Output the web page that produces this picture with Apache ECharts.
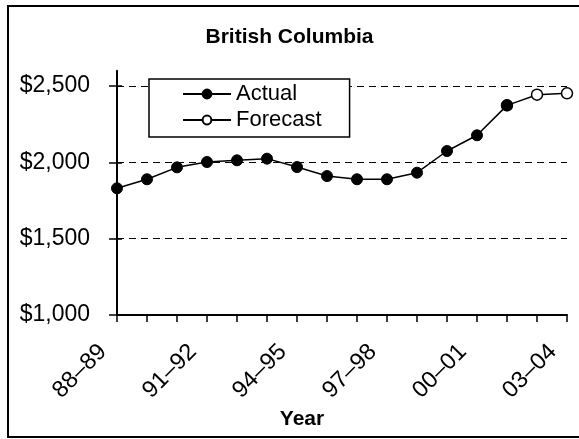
<!DOCTYPE html>
<html>
<head>
<meta charset="utf-8">
<script src="https://cdn.jsdelivr.net/npm/echarts@6/dist/echarts.min.js"></script>
<style>html,body{margin:0;padding:0;background:#fff}#chart{width:579px;height:439px}</style>
</head>
<body>
<div id="chart"></div>
<script>
const years = ['88–89','89–90','90–91','91–92','92–93','93–94','94–95','95–96','96–97','97–98','98–99','99–00','00–01','01–02','02–03','03–04'];
const actual = [1830, 1889, 1967, 2002, 2013, 2024, 1969, 1910, 1889, 1889, 1932, 2074, 2177, 2373, null, null];
const forecast = [null, null, null, null, null, null, null, null, null, null, null, null, null, 2373, 2443, 2452];
const yTicks = [1000, 1500, 2000, 2500];

const FONT = '"Liberation Sans", Arial, sans-serif';
const chart = echarts.init(document.getElementById('chart'));
chart.setOption({
  animation: false,
  backgroundColor: '#fff',
  textStyle: { fontFamily: FONT, color: '#000' },
  title: {
    text: 'British Columbia',
    left: 'center',
    top: 22,
    textStyle: { fontFamily: FONT, fontSize: 21, fontWeight: 'bold', color: '#000' }
  },
  graphic: [
    { type: 'rect', shape: { x: 8, y: 6, width: 590, height: 431 }, style: { fill: 'none', stroke: '#000', lineWidth: 2 }, z: -1 },
    { type: 'text', x: 302, y: 419, style: { text: 'Year', fontFamily: FONT, fontSize: 21, fontWeight: 'bold', fill: '#000', align: 'center', verticalAlign: 'middle' } }
  ],
  legend: {
    data: ['Actual', 'Forecast'],
    orient: 'vertical',
    left: 149,
    top: 79,
    padding: [3, 28, 5, 33],
    itemGap: 2,
    itemWidth: 48,
    itemHeight: 11,
    borderColor: '#000',
    borderWidth: 1.5,
    backgroundColor: '#fff',
    textStyle: { fontFamily: FONT, fontSize: 22, color: '#000', lineHeight: 24 }
  },
  grid: { left: 117, right: 12, top: 70.7, bottom: 124, containLabel: false },
  xAxis: {
    type: 'category',
    data: years,
    boundaryGap: false,
    axisLine: { lineStyle: { color: '#000', width: 2 } },
    axisTick: { show: true, interval: 0, length: 7, lineStyle: { color: '#000', width: 1.5 } },
    axisLabel: { interval: 2, rotate: 45, margin: 19, padding: [0, 20, 0, 0], fontFamily: FONT, fontSize: 23.5, color: '#000' },
    splitLine: { show: false }
  },
  yAxis: [
    {
      type: 'value',
      min: 1000,
      max: 2600,
      interval: 500,
      axisLine: { show: true, lineStyle: { color: '#000', width: 2 } },
      axisTick: { show: true, length: 8, customValues: yTicks, lineStyle: { color: '#000', width: 1.5 } },
      axisLabel: {
        customValues: yTicks,
        margin: 27,
        fontFamily: FONT, fontSize: 23, color: '#000',
        formatter: v => '$' + Number(v).toLocaleString('en-US')
      },
      splitLine: { show: true, showMinLine: false, showMaxLine: true, lineStyle: { color: '#000', width: 1, type: [7, 5] } }
    },
    {
      type: 'value',
      min: 1000,
      max: 2600,
      interval: 500,
      position: 'left',
      axisLine: { show: false },
      axisTick: { show: true, inside: true, length: 5, customValues: yTicks, lineStyle: { color: '#000', width: 1.5 } },
      axisLabel: { show: false },
      splitLine: { show: false }
    }
  ],
  series: [
    {
      name: 'Forecast',
      type: 'line',
      data: forecast,
      symbol: 'circle',
      symbolSize: 11,
      showAllSymbol: true,
      lineStyle: { color: '#000', width: 1.5 },
      itemStyle: { color: '#fff', borderColor: '#000', borderWidth: 1.5 },
      z: 2
    },
    {
      name: 'Actual',
      type: 'line',
      data: actual,
      symbol: 'circle',
      symbolSize: 11,
      showAllSymbol: true,
      lineStyle: { color: '#000', width: 1.5 },
      itemStyle: { color: '#000', borderColor: '#000', borderWidth: 1 },
      z: 3
    }
  ]
});
</script>
</body>
</html>
